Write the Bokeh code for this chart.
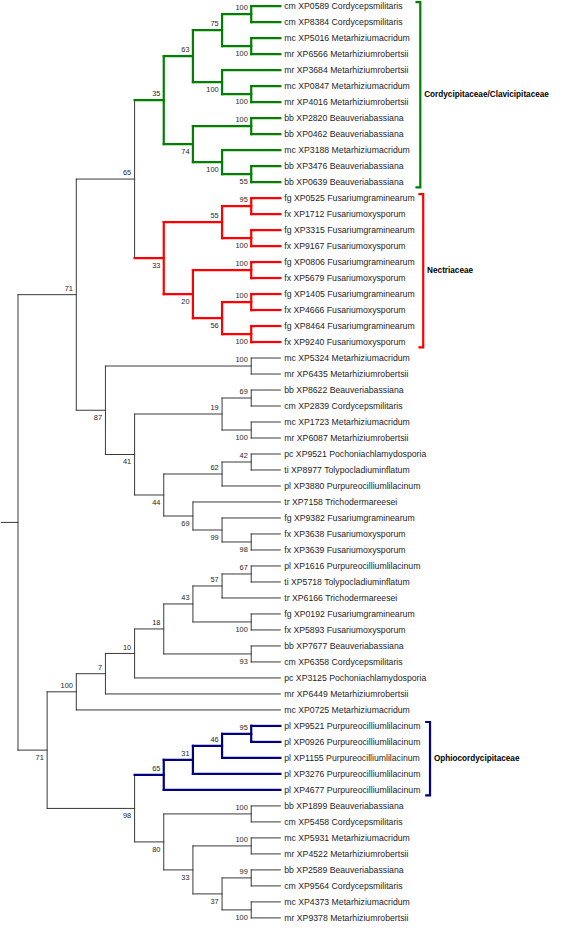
from bokeh.plotting import figure
from bokeh.models import Range1d, ColumnDataSource
from bokeh.core.properties import value
from bokeh.embed import file_html
from bokeh.resources import INLINE

# ---------------- data ----------------
species = {
    "cm": "Cordycepsmilitaris", "mc": "Metarhiziumacridum", "mr": "Metarhiziumrobertsii",
    "bb": "Beauveriabassiana", "fg": "Fusariumgraminearum", "fx": "Fusariumoxysporum",
    "pc": "Pochoniachlamydosporia", "ti": "Tolypocladiuminflatum",
    "pl": "Purpureocilliumlilacinum", "tr": "Trichodermareesei",
}

cordyc = ("((((cm XP0589,cm XP8384)100,(mc XP5016,mr XP6566)100)75,"
          "(mr XP3684,(mc XP0847,mr XP4016)100)100)63,"
          "((bb XP2820,bb XP0462)100,(mc XP3188,(bb XP3476,bb XP0639)55)100)74)35")
nect = ("(((fg XP0525,fx XP1712)95,(fg XP3315,fx XP9167)100)55,"
        "((fg XP0806,fx XP5679)100,((fg XP1405,fx XP4666)100,(fg XP8464,fx XP9240)100)56)20)33")
mixed1 = ("((mc XP5324,mr XP6435)100,(((bb XP8622,cm XP2839)69,(mc XP1723,mr XP6087)100)19,"
          "(((pc XP9521,ti XP8977)42,pl XP3880)62,(tr XP7158,(fg XP9382,(fx XP3638,fx XP3639)98)99)69)44)41)87")
mixed2 = ("(((((((pl XP1616,ti XP5718)67,tr XP6166)57,(fg XP0192,fx XP5893)100)43,"
          "(bb XP7677,cm XP6358)93)18,pc XP3125)10,mr XP6449)7,mc XP0725)100")
ophio = "((((pl XP9521,pl XP0926)95,pl XP1155)46,pl XP3276)31,pl XP4677)65"
mixed3 = ("((bb XP1899,cm XP5458)100,((mc XP5931,mr XP4522)100,"
          "((bb XP2589,cm XP9564)99,(mc XP4373,mr XP9378)100)37)33)80")

newick = ("(((" + cordyc + "," + nect + ")65," + mixed1 + ")71,"
          "(" + mixed2 + ",(" + ophio + "," + mixed3 + ")98)71);")

clade_names = ["Cordycipitaceae/Clavicipitaceae", "Nectriaceae", "Ophiocordycipitaceae"]
clade_first = ["cm XP0589", "fg XP0525", "pl XP9521"]
clade_last = ["bb XP0639", "fx XP9240", "pl XP4677"]
clade_colors = ["#008000", "#ff0000", "#000080"]

# ---------------- layout constants (reference pixel units) ----------------
TIP_X = 288.0
STEP = 30.0
Y0 = 5.7
DY = 16.274
ROOT_STUB_X = 1.0
LABEL_X = 292.0
BRACKET_X = [432.0, 435.0, 442.0]
BRACKET_TICK = 5.0
TREE_COLOR = "#3a3a3a"
TEXT_COLOR = "#1e1e1e"


def parse(s):
    pos = 0

    def node():
        nonlocal pos
        if s[pos] == "(":
            pos += 1
            kids = [node()]
            while s[pos] == ",":
                pos += 1
                kids.append(node())
            pos += 1  # ')'
            j = pos
            while pos < len(s) and s[pos] not in ",();":
                pos += 1
            return {"kids": kids, "support": s[j:pos].strip()}
        j = pos
        while s[pos] not in ",();":
            pos += 1
        return {"kids": [], "name": s[j:pos].strip()}

    return node()


root = parse(newick)
leaves = []
nodes = []


def layout(n, parent=None, upper=True):
    n["parent"] = parent
    n["upper"] = upper
    nodes.append(n)
    if not n["kids"]:
        n["h"] = 0
        n["y"] = Y0 + len(leaves) * DY
        n["leafset"] = {n["name"]}
        leaves.append(n)
    else:
        for i, k in enumerate(n["kids"]):
            layout(k, n, i == 0)
        n["h"] = 1 + max(k["h"] for k in n["kids"])
        n["y"] = (n["kids"][0]["y"] + n["kids"][-1]["y"]) / 2.0
        n["leafset"] = set().union(*[k["leafset"] for k in n["kids"]])
    n["x"] = TIP_X - STEP * n["h"]
    n["color"] = TREE_COLOR
    n["width"] = 1.0


layout(root)


def paint(n, c):
    n["color"] = c
    n["width"] = 2.2
    for k in n["kids"]:
        paint(k, c)


for f, l, c in zip(clade_first, clade_last, clade_colors):
    cands = [n for n in nodes if f in n["leafset"] and l in n["leafset"]]
    mrca = min(cands, key=lambda n: len(n["leafset"]))
    paint(mrca, c)

# segments
x0, y0, x1, y1, col, wid = [], [], [], [], [], []
for n in nodes:
    if n["parent"] is not None:
        x0.append(n["parent"]["x"]); y0.append(n["y"]); x1.append(n["x"]); y1.append(n["y"])
        col.append(n["color"]); wid.append(n["width"])
    else:
        x0.append(ROOT_STUB_X); y0.append(n["y"]); x1.append(n["x"]); y1.append(n["y"])
        col.append(TREE_COLOR); wid.append(1.0)
    if n["kids"]:
        x0.append(n["x"]); y0.append(n["kids"][0]["y"]); x1.append(n["x"]); y1.append(n["kids"][-1]["y"])
        col.append(n["color"]); wid.append(n["width"])

p = figure(width=551, height=922, x_range=Range1d(0, 567), y_range=Range1d(938, 0),
           toolbar_location=None, output_backend="svg", min_border=0)
p.xaxis.visible = False
p.yaxis.visible = False
p.grid.visible = False
p.outline_line_color = None
p.background_fill_color = "white"
p.border_fill_color = "white"

# draw thin lines first, coloured on top
order = sorted(range(len(x0)), key=lambda i: wid[i])
seg = ColumnDataSource(dict(x0=[x0[i] for i in order], y0=[y0[i] for i in order],
                            x1=[x1[i] for i in order], y1=[y1[i] for i in order],
                            c=[col[i] for i in order], w=[wid[i] for i in order]))
p.segment("x0", "y0", "x1", "y1", source=seg, line_color="c", line_width="w", line_cap="square")

# leaf labels
lab = ColumnDataSource(dict(
    x=[LABEL_X] * len(leaves), y=[n["y"] for n in leaves],
    t=[n["name"] + " " + species[n["name"].split()[0]] for n in leaves]))
p.text("x", "y", "t", source=lab, text_font=value("Liberation Sans"), text_font_size="8.7px",
       text_baseline="middle", text_align="left", text_color=TEXT_COLOR)

# bootstrap labels
up = dict(x=[], y=[], t=[])
dn = dict(x=[], y=[], t=[])
for n in nodes:
    if n["kids"] and n["parent"] is not None and n["support"]:
        d = up if n["upper"] else dn
        d["x"].append(n["x"] - 3.5)
        d["y"].append(n["y"] - 6.3 if n["upper"] else n["y"] + 7.6)
        d["t"].append(n["support"])
for d in (up, dn):
    p.text("x", "y", "t", source=ColumnDataSource(d), text_font=value("Liberation Sans"),
           text_font_size="7.4px", text_baseline="middle", text_align="right", text_color=TEXT_COLOR)

# clade brackets
leaf_y = {n["name"]: n["y"] for n in leaves}
for name, f, l, c, bx in zip(clade_names, clade_first, clade_last, clade_colors, BRACKET_X):
    top = leaf_y[f] - 4.0
    bot = leaf_y[l] + 5.5
    p.line([bx - BRACKET_TICK, bx, bx, bx - BRACKET_TICK], [top, top, bot, bot],
           line_color=c, line_width=2.2, line_join="miter")
    p.text([bx + 4.0], [(top + bot) / 2.0], [name], text_font=value("Liberation Sans"),
           text_font_size="8.2px", text_font_style="bold", text_baseline="middle",
           text_align="left", text_color="black")

open("out.html", "w").write(file_html(p, INLINE))
